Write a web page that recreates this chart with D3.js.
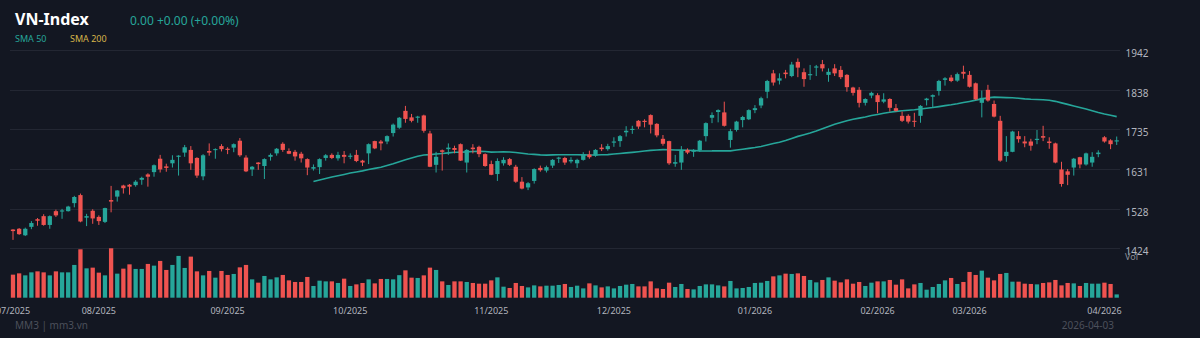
<!DOCTYPE html>
<html><head><meta charset="utf-8">
<script src="https://cdn.jsdelivr.net/npm/d3@7"></script>
<style>html,body{margin:0;padding:0;background:#131722;overflow:hidden}svg{display:block}</style>
</head><body><svg id="c" width="1200" height="338"></svg>
<script>
// ---- DATA (VN-Index daily) ----
const openP = [1473,1475,1458,1480,1500,1508,1485,1521,1520,1521,1542,1563,1504,1522,1506,1493,1550,1559,1588,1590,
1589,1603,1617,1623,1658,1638,1646,1663,1674,1681,1660,1612,1678,1681,1691,1684,1687,1705,1661,1630,
1648,1639,1663,1672,1697,1678,1676,1671,1657,1632,1636,1660,1668,1659,1668,1663,1668,1653,1672,1704,
1703,1703,1725,1739,1783,1766,1765,1771,1724,1642,1680,1683,1686,1696,1648,1687,1689,1670,1644,1618,
1646,1657,1637,1598,1583,1600,1634,1627,1640,1658,1660,1651,1646,1655,1669,1666,1687,1683,1700,1704,
1727,1733,1757,1757,1772,1749,1710,1704,1645,1648,1681,1676,1680,1717,1765,1780,1779,1707,1733,1759,
1761,1785,1797,1833,1881,1862,1883,1874,1911,1884,1876,1896,1905,1877,1894,1890,1877,1844,1838,1804,
1823,1824,1807,1814,1790,1770,1770,1757,1770,1811,1820,1835,1864,1870,1862,1885,1877,1855,1804,1838,
1801,1757,1665,1676,1717,1703,1703,1707,1717,1703,1698,1630,1625,1635,1662,1643,1648,1670,1714,1706,1703];
const highP = [1474,1477,1478,1495,1503,1513,1510,1525,1527,1535,1561,1567,1514,1526,1510,1530,1587,1576,1590,1592,
1602,1611,1620,1643,1668,1645,1667,1667,1694,1691,1662,1670,1698,1685,1696,1688,1698,1712,1667,1639,
1649,1659,1672,1686,1701,1685,1681,1676,1659,1643,1659,1670,1672,1676,1678,1672,1681,1655,1698,1705,
1707,1719,1750,1767,1796,1775,1770,1773,1731,1676,1682,1698,1692,1698,1683,1696,1692,1672,1653,1659,
1662,1660,1642,1610,1597,1633,1640,1640,1657,1663,1663,1662,1658,1675,1679,1683,1696,1697,1714,1720,
1743,1744,1759,1761,1774,1751,1720,1705,1668,1691,1685,1683,1707,1753,1779,1787,1807,1736,1757,1770,
1787,1798,1820,1864,1890,1881,1890,1911,1920,1894,1903,1903,1916,1894,1905,1900,1879,1846,1845,1816,
1833,1829,1829,1816,1801,1781,1774,1778,1798,1817,1826,1864,1871,1877,1883,1901,1887,1857,1836,1851,
1810,1770,1717,1731,1730,1717,1710,1733,1744,1714,1700,1650,1631,1660,1663,1674,1675,1680,1717,1709,1716];
const lowP = [1446,1459,1456,1474,1483,1483,1475,1506,1501,1520,1531,1492,1482,1488,1485,1490,1518,1546,1567,1564,
1585,1590,1585,1611,1622,1624,1635,1614,1663,1629,1608,1602,1666,1658,1677,1670,1675,1663,1623,1613,
1629,1605,1653,1666,1676,1670,1653,1648,1615,1627,1618,1653,1657,1653,1646,1657,1649,1639,1644,1683,
1680,1696,1716,1736,1752,1753,1752,1726,1636,1622,1627,1668,1672,1652,1622,1672,1662,1637,1615,1600,
1640,1639,1595,1578,1576,1593,1624,1622,1634,1647,1642,1646,1634,1653,1658,1663,1678,1679,1689,1689,
1716,1723,1736,1740,1724,1714,1692,1642,1637,1629,1670,1663,1676,1703,1751,1753,1742,1687,1729,1740,
1759,1777,1790,1816,1849,1852,1868,1871,1871,1846,1864,1874,1886,1859,1874,1866,1833,1823,1792,1797,
1816,1777,1803,1781,1781,1754,1750,1741,1752,1797,1793,1823,1849,1858,1859,1867,1844,1811,1766,1807,
1766,1650,1650,1675,1700,1688,1679,1696,1704,1684,1646,1585,1589,1614,1633,1640,1637,1662,1700,1683,1694];
const closeP = [1469,1461,1475,1490,1496,1485,1508,1510,1523,1533,1558,1494,1508,1502,1495,1529,1546,1575,1581,1585,
1598,1608,1611,1641,1630,1634,1655,1666,1688,1646,1614,1667,1674,1683,1683,1681,1696,1667,1625,1637,
1644,1657,1668,1684,1681,1671,1664,1659,1635,1636,1657,1667,1660,1668,1663,1666,1652,1648,1696,1685,
1698,1717,1747,1765,1762,1757,1768,1731,1637,1663,1676,1687,1681,1653,1681,1683,1670,1639,1616,1652,
1655,1642,1598,1580,1594,1631,1628,1636,1655,1661,1648,1655,1655,1670,1662,1681,1683,1691,1703,1717,
1731,1736,1742,1754,1747,1719,1697,1646,1649,1679,1674,1681,1705,1751,1772,1785,1744,1730,1755,1767,
1785,1790,1816,1861,1857,1868,1879,1904,1896,1866,1879,1899,1894,1885,1881,1871,1845,1830,1804,1814,
1830,1806,1813,1791,1783,1757,1755,1755,1796,1815,1824,1861,1868,1861,1879,1880,1846,1813,1817,1810,
1768,1653,1676,1729,1709,1698,1692,1710,1713,1699,1648,1592,1616,1658,1643,1672,1663,1674,1703,1696,1706];
const volume = [690,729,669,759,789,759,669,789,759,759,981,1449,879,900,750,669,1479,720,870,999,
861,861,1011,960,1101,831,981,1251,891,1230,789,669,801,600,801,681,711,909,981,549,
450,651,549,609,681,519,471,471,621,351,510,489,489,441,570,351,399,441,549,429,
561,561,549,675,819,600,591,669,900,831,489,381,489,489,471,441,420,420,519,609,
330,291,441,351,309,369,339,360,360,381,411,321,360,279,429,369,309,339,279,351,
390,411,339,339,489,279,261,450,321,411,261,249,351,399,399,369,339,501,279,291,
321,441,450,501,639,669,720,711,729,651,531,459,531,609,510,459,549,420,471,351,
450,489,489,531,390,549,279,399,441,240,321,411,519,591,411,471,771,681,810,600,
519,711,741,480,480,420,411,399,441,459,531,369,441,429,351,441,420,420,450,411,99];
const priceTicks = [1424,1527.6,1631.2,1734.8,1838.4,1942];
const monthTickIndex = [0,14,35,55,78,98,121,141,156,178];
const monthTickLabels = ["07/2025","08/2025","09/2025","10/2025","11/2025","12/2025","01/2026","02/2026","03/2026","04/2026"];
const smaPeriod = 50;

// ---- CHART ----
const W = 1200, H = 338;
const UP = "#26a69a", DOWN = "#ef5350";
const FONT = "'Noto Sans', 'Open Sans', sans-serif";
const svg = d3.select("#c");
svg.append("rect").attr("width", W).attr("height", H).attr("fill", "#131722");

const idx = d3.range(closeP.length);
const x = d3.scalePoint().domain(idx).range([13, 1116.7]);
const step = x.step();
const bw = step * 0.7;
const y = d3.scaleLinear().domain([1424, 1942]).range([248.3, 50]);
const yv = d3.scaleLinear().domain([0, d3.max(volume)]).range([297.7, 248.3]);

// grid
svg.append("g").selectAll("line").data(priceTicks).join("line")
  .attr("x1", 10).attr("x2", 1120)
  .attr("y1", d => Math.round(y(d)) + 0.5).attr("y2", d => Math.round(y(d)) + 0.5)
  .attr("stroke", "#232733").attr("stroke-width", 1);

// right axis labels
svg.append("g").selectAll("text").data(priceTicks).join("text")
  .attr("x", 1125.5).attr("y", d => y(d) + 7)
  .attr("fill", "#b2b5be").attr("font-family", FONT).attr("font-size", 10)
  .text(d => d3.format(".0f")(d));
svg.append("text").attr("x", 1125).attr("y", 259.5)
  .attr("fill", "#8a8e98").attr("font-family", FONT).attr("font-size", 9).text("Vol");

// volume bars
svg.append("g").selectAll("rect").data(idx).join("rect")
  .attr("x", i => x(i) - bw / 2).attr("width", bw)
  .attr("y", i => yv(volume[i])).attr("height", i => yv(0) - yv(volume[i]))
  .attr("fill", i => closeP[i] >= openP[i] ? UP : DOWN);

// SMA 50
const sma = idx.map(i => i < smaPeriod - 1 ? null : d3.mean(closeP.slice(i - smaPeriod + 1, i + 1)));
svg.append("path").datum(idx.filter(i => sma[i] != null))
  .attr("d", d3.line().x(i => x(i)).y(i => y(sma[i])))
  .attr("fill", "none").attr("stroke", UP).attr("stroke-width", 1.6);

// candles
const cg = svg.append("g");
cg.selectAll("line").data(idx).join("line")
  .attr("x1", i => x(i)).attr("x2", i => x(i))
  .attr("y1", i => y(highP[i])).attr("y2", i => y(lowP[i]))
  .attr("stroke", i => closeP[i] >= openP[i] ? UP : DOWN).attr("stroke-width", 1);
cg.selectAll("rect").data(idx).join("rect")
  .attr("x", i => x(i) - bw / 2).attr("width", bw)
  .attr("y", i => y(Math.max(openP[i], closeP[i])))
  .attr("height", i => Math.max(1, Math.abs(y(openP[i]) - y(closeP[i]))))
  .attr("fill", i => closeP[i] >= openP[i] ? UP : DOWN);

// x axis labels
svg.append("g").selectAll("text").data(monthTickIndex).join("text")
  .attr("x", i => x(i)).attr("y", 313.5).attr("text-anchor", "middle")
  .attr("fill", "#b2b5be").attr("font-family", FONT).attr("font-size", 9)
  .text((d, k) => monthTickLabels[k]);

// header
svg.append("text").attr("x", 15).attr("y", 25).attr("fill", "#ffffff")
  .attr("font-family", FONT).attr("font-size", 16).attr("font-weight", "bold").text("VN-Index");
svg.append("text").attr("x", 130).attr("y", 25).attr("fill", UP)
  .attr("font-family", FONT).attr("font-size", 12).text("0.00 +0.00 (+0.00%)");
svg.append("text").attr("x", 15).attr("y", 41.5).attr("fill", UP)
  .attr("font-family", FONT).attr("font-size", 9).text("SMA 50");
svg.append("text").attr("x", 70).attr("y", 41.5).attr("fill", "#d6b54a")
  .attr("font-family", FONT).attr("font-size", 9).text("SMA 200");

// footer
svg.append("text").attr("x", 15).attr("y", 328.5).attr("fill", "#4c505b")
  .attr("font-family", FONT).attr("font-size", 10).text("MM3  |  mm3.vn");
svg.append("text").attr("x", 1114).attr("y", 328.5).attr("text-anchor", "end").attr("fill", "#4c505b")
  .attr("font-family", FONT).attr("font-size", 10).text("2026-04-03");
</script></body></html>
